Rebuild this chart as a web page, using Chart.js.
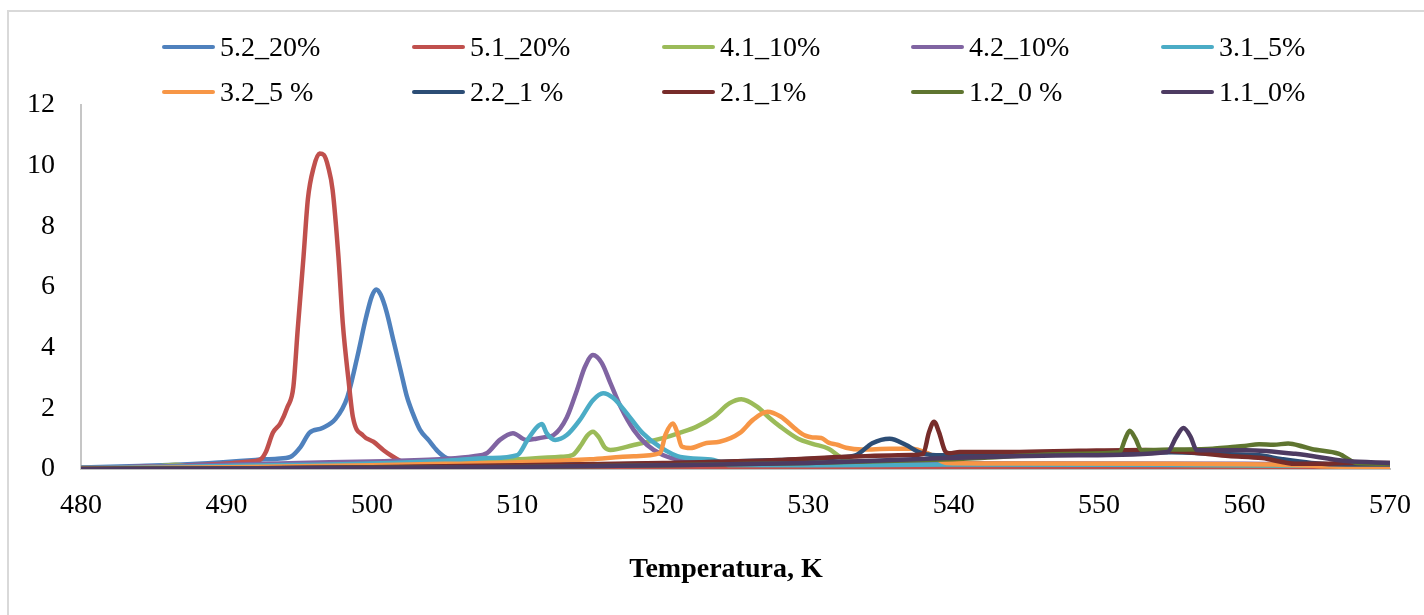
<!DOCTYPE html>
<html><head><meta charset="utf-8">
<script src="https://cdn.jsdelivr.net/npm/chart.js@4.4.0/dist/chart.umd.min.js"></script>
<style>
html,body{margin:0;padding:0;background:#fff;overflow:hidden;}
#wrap{position:relative;width:1424px;height:615px;overflow:hidden;}
#frame{position:absolute;left:7px;top:10px;width:1500px;height:700px;border-left:2px solid #d9d9d9;border-top:2px solid #d9d9d9;}
canvas{position:absolute;left:0;top:0;}
.item{position:absolute;display:flex;align-items:center;height:32px;font-family:'Liberation Serif','Times New Roman',serif;font-size:28px;color:#000;white-space:nowrap;}
.sw{display:inline-block;width:53px;height:4px;border-radius:2px;margin-right:5px;}
#xtitle{position:absolute;left:0;width:1452px;top:552px;text-align:center;font-family:'Liberation Serif','Times New Roman',serif;font-weight:bold;font-size:28px;color:#000;}
</style></head>
<body>
<div id="wrap">
<div id="frame"></div>
<canvas id="c" width="1424" height="615"></canvas>
<div id="legend"></div>
<div id="xtitle">Temperatura, K</div>
</div>
<script>
// ---- data ----
const seriesNames = ['5.2_20%','5.1_20%','4.1_10%','4.2_10%','3.1_5%','3.2_5 %','2.2_1 %','2.1_1%','1.2_0 %','1.1_0%'];
const seriesColors = ['#4F81BD','#C0504D','#9BBB59','#8064A2','#4BACC6','#F79646','#2C4D75','#772C2A','#5F7530','#4D3B62'];
const xTicks = [480,490,500,510,520,530,540,550,560,570];
const yTicks = [0,2,4,6,8,10,12];

const temps52 = [480,484,488,490,492,493.5,494.4,495.1,495.7,496.6,497.5,498.3,499.0,499.6,500.0,500.3,500.6,501.0,501.5,502.0,502.4,502.8,503.3,503.9,504.5,505.1,506,510,520,540,570];
const vals52  = [0.05,0.1,0.17,0.23,0.3,0.34,0.4,0.73,1.19,1.35,1.65,2.35,3.7,5.0,5.7,5.92,5.75,5.2,4.2,3.2,2.4,1.85,1.3,0.95,0.6,0.37,0.28,0.2,0.12,0.08,0.05];

const temps51 = [480,485,490,491.5,492.3,492.7,493.2,493.7,494.2,494.6,494.9,495.3,495.6,496.0,496.4,496.7,497.0,497.3,497.7,498.0,498.4,498.7,499.4,500.1,500.8,501.4,501.9,502.4,504,510,530,570];
const vals51  = [0.03,0.08,0.18,0.24,0.3,0.55,1.2,1.5,2.05,2.7,4.6,7.0,8.9,9.95,10.4,10.35,9.95,9.2,7.0,4.8,2.9,1.7,1.1,0.9,0.62,0.42,0.28,0.18,0.12,0.08,0.05,0.03];

const temps41 = [480,484,485.5,486.5,487.5,490,495,500,505,510,513.0,513.8,514.4,514.8,515.2,515.6,516.0,516.4,518.0,520.0,521.2,522.3,523.5,524.6,525.4,526.5,527.3,528.1,529.3,530.3,531.4,532.3,533.5,540,550,560,570];
const vals41  = [0.03,0.05,0.1,0.14,0.07,0.05,0.08,0.12,0.2,0.32,0.4,0.46,0.8,1.1,1.23,1.05,0.72,0.63,0.79,1.02,1.2,1.39,1.72,2.17,2.3,2.05,1.7,1.39,1.0,0.83,0.67,0.37,0.22,0.18,0.15,0.12,0.08];

const temps42 = [480,485,490,495,500,505,507,507.9,508.8,509.7,510.6,511.3,512.0,512.5,513.4,514.1,514.65,515.2,515.8,516.4,517.1,518.0,518.9,520.0,521.2,523,530,545,560,570];
const vals42  = [0.03,0.08,0.14,0.2,0.25,0.33,0.42,0.52,0.96,1.18,0.96,1.0,1.06,1.12,1.7,2.6,3.37,3.76,3.5,2.83,2.05,1.29,0.8,0.46,0.3,0.22,0.2,0.18,0.17,0.12];

const temps31 = [480,490,500,505,508,510.0,510.7,511.35,511.7,512.0,512.6,513.4,514.3,515.2,515.9,516.6,517.5,518.6,519.8,521.2,523.5,524.6,530,540,550,560,570];
const vals31  = [0.03,0.1,0.18,0.27,0.36,0.46,0.96,1.38,1.48,1.19,0.96,1.12,1.62,2.27,2.5,2.34,1.85,1.19,0.73,0.4,0.3,0.13,0.12,0.15,0.14,0.12,0.1];

const temps32 = [480,490,500,505,510,515,518,519.8,520.2,520.7,521.0,521.3,521.9,523.0,523.9,525.3,526.2,527.2,528.1,529.2,529.8,530.3,530.9,531.4,532.0,532.6,533.7,535.6,537.1,538.3,539.5,545,555,562,566,570];
const vals32  = [0.02,0.06,0.12,0.17,0.22,0.32,0.42,0.52,1.15,1.5,1.2,0.74,0.69,0.86,0.9,1.19,1.62,1.89,1.73,1.29,1.1,1.04,1.02,0.87,0.8,0.7,0.64,0.67,0.67,0.5,0.2,0.18,0.17,0.15,0.08,0.05];

const temps22 = [480,490,500,510,520,528,532,533.3,534.4,535.6,536.7,537.6,538.5,540,545,550,555,558,561,562.5,564.6,567,570];
const vals22  = [0.0,0.02,0.05,0.1,0.18,0.3,0.38,0.46,0.85,1.0,0.8,0.56,0.46,0.45,0.48,0.52,0.55,0.5,0.45,0.33,0.2,0.15,0.15];

const temps21 = [480,490,500,510,520,528.2,532.6,537.1,537.9,538.3,538.65,539.0,539.4,539.7,540.4,544,548.6,553.2,556.7,558.9,561.2,563.5,565.1,567,570];
const vals21  = [0.0,0.02,0.06,0.12,0.2,0.3,0.4,0.46,0.5,1.2,1.56,1.2,0.6,0.52,0.56,0.56,0.6,0.63,0.53,0.43,0.36,0.17,0.17,0.2,0.2];

const temps12 = [480,490,500,510,520,530,540,548.6,551.4,551.8,552.1,552.5,552.9,555,557.8,559,560,561,562,563,564,564.6,566.5,567.7,570];
const vals12  = [0.0,0.02,0.04,0.07,0.12,0.2,0.32,0.5,0.55,1.0,1.26,1.0,0.62,0.64,0.67,0.72,0.76,0.82,0.8,0.84,0.74,0.66,0.5,0.2,0.17];

const temps11 = [480,490,500,510,520,530,539.5,548.6,554.7,555.3,555.8,556.3,556.7,558,560.1,563.5,567,570];
const vals11  = [0.0,0.02,0.04,0.07,0.12,0.2,0.36,0.45,0.56,1.05,1.35,1.05,0.63,0.62,0.62,0.5,0.26,0.2];

const seriesTemps = [temps52,temps51,temps41,temps42,temps31,temps32,temps22,temps21,temps12,temps11];
const seriesVals  = [vals52,vals51,vals41,vals42,vals31,vals32,vals22,vals21,vals12,vals11];

// ---- legend (HTML) ----
const legendCols = [162,412,662,911,1161];
const legendRows = [31,76];
const lg = document.getElementById('legend');
seriesNames.forEach((n,i)=>{
  const d = document.createElement('div');
  d.className='item';
  d.style.left = legendCols[i%5]+'px';
  d.style.top = legendRows[Math.floor(i/5)]+'px';
  const s = document.createElement('span'); s.className='sw'; s.style.background=seriesColors[i];
  const t = document.createElement('span'); t.textContent = n;
  d.appendChild(s); d.appendChild(t); lg.appendChild(d);
});

// ---- chart ----
const N = seriesNames.length;
const datasets = seriesNames.map((n,i)=>({
  label:n,
  data: seriesTemps[i].map((x,k)=>({x:x,y:seriesVals[i][k]})),
  borderColor: seriesColors[i],
  backgroundColor: seriesColors[i],
  order: N-1-i,
  fill:false
}));
const font = {family:"'Liberation Serif','Times New Roman',serif", size:28};
new Chart(document.getElementById('c').getContext('2d'), {
  type:'line',
  data:{datasets},
  options:{
    responsive:false, animation:false, devicePixelRatio:1,
    layout:{padding:{top:105,right:34,bottom:0,left:0}},
    plugins:{legend:{display:false}, tooltip:{enabled:false}},
    elements:{point:{radius:0}, line:{borderWidth:4.5, cubicInterpolationMode:'monotone', borderCapStyle:'round', borderJoinStyle:'round'}},
    scales:{
      x:{type:'linear', min:xTicks[0], max:xTicks[xTicks.length-1],
         afterFit(s){s.height=146; s.paddingLeft=0; s.paddingRight=0;},
         afterBuildTicks(s){s.ticks = xTicks.map(v=>({value:v}));},
         grid:{display:false, drawTicks:false},
         border:{display:true, color:'#bfbfbf', width:2},
         ticks:{padding:20, color:'#000', font:font}},
      y:{type:'linear', min:yTicks[0], max:yTicks[yTicks.length-1],
         afterFit(s){s.width=81; s.paddingTop=0; s.paddingBottom=0;},
         afterBuildTicks(s){s.ticks = yTicks.map(v=>({value:v}));},
         grid:{display:false, drawTicks:false},
         border:{display:true, color:'#c6c6c6', width:2},
         ticks:{padding:26, color:'#000', font:font}}
    }
  }
});
</script>
</body></html>
